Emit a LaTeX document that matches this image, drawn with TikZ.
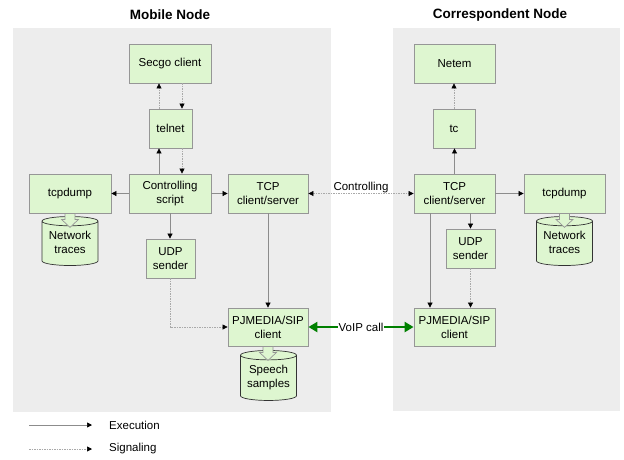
\documentclass[tikz,border=0pt]{standalone}
\usepackage{fontspec}
\setmainfont{Liberation Sans}
\usetikzlibrary{arrows.meta,calc,shapes.geometric}
\definecolor{panelgray}{RGB}{237,237,237}
\definecolor{boxgreen}{RGB}{222,246,208}
\definecolor{boxline}{RGB}{150,150,150}
\definecolor{linegray}{RGB}{140,140,140}
\definecolor{voipgreen}{RGB}{0,128,0}
\tikzset{
  panel/.style={fill=panelgray, draw=none},
  box/.style={draw=boxline, fill=boxgreen, line width=0.8pt, align=center, inner sep=0pt,
    font=\fontsize{11.5}{14}\selectfont, minimum height=39pt},
  db/.style={draw=black!80, fill=boxgreen, line width=0.7pt, shape=cylinder, shape border rotate=90,
    aspect=0.22, minimum width=56pt, minimum height=49pt, inner sep=0pt, align=center,
    font=\fontsize{11.5}{14}\selectfont},
  tip/.style={-{Triangle[length=5pt,width=5pt,black]}},
  exe/.style={draw=linegray, line width=0.7pt, tip},
  sig/.style={draw=linegray!75, line width=0.6pt, dash pattern=on 1.5pt off 1pt, tip},
  blk/.style={draw=boxline, fill=boxgreen, line width=0.7pt},
  title/.style={font=\fontsize{13.5}{16}\bfseries\selectfont},
  lbl/.style={font=\fontsize{11.5}{14}\selectfont, inner sep=1pt},
}
\newcommand\blkarrow[1]{%
  \draw[blk] ($(#1)+(-5,0)$) -- ++(0,6) -- ++(-3.5,0) -- ($(#1)+(0,14)$)
    -- ($(#1)+(8.5,6)$) -- ++(-3.5,0) -- ($(#1)+(5,0)$) -- cycle;}
\newcommand\dbtext[2]{\raisebox{-3pt}{\begin{tabular}{@{}c@{}}#1\\#2\end{tabular}}}
\begin{document}
\begin{tikzpicture}[x=1pt,y=-1pt]
\useasboundingbox (0,0) rectangle (624,459);
% panels
\fill[panel] (13,28) rectangle (331,412);
\fill[panel] (393,28) rectangle (620,411);
% titles
\node[title] (tmob) at (170,15) {Mobile Node};
\node[title] (tcor) at (500,15) {Correspondent Node};
% mobile node boxes
\node[box, minimum width=82pt] (secgo) at (170,63.5) {Secgo client};
\node[box, minimum width=43pt] (telnet) at (170.5,128.5) {telnet};
\node[box, minimum width=82pt] (script) at (170,193.5) {Controlling\\script};
\node[box, minimum width=82pt] (dumpL) at (70,193.5) {tcpdump};
\node[box, minimum width=80pt] (tcpL) at (268,193.5) {TCP\\client/server};
\node[box, minimum width=49pt] (udpL) at (170.5,258.5) {UDP\\sender};
\node[box, minimum width=80pt, minimum height=38pt] (pjL) at (268,327) {PJMEDIA/SIP\\client};
\node[db] (tracesL) at (70,243.5) {\dbtext{Network}{traces}};
\node[db, minimum height=50pt] (speech) at (268.5,378) {\dbtext{Speech}{samples}};
% correspondent node boxes
\node[box, minimum width=81pt] (netem) at (454.5,63.5) {Netem};
\node[box, minimum width=42pt] (tc) at (454,128.5) {tc};
\node[box, minimum width=81pt] (tcpR) at (454.5,193.5) {TCP\\client/server};
\node[box, minimum width=81pt] (dumpR) at (564.5,193.5) {tcpdump};
\node[box, minimum width=49pt] (udpR) at (470.5,248.5) {UDP\\sender};
\node[box, minimum width=81pt, minimum height=38pt] (pjR) at (454.5,327) {PJMEDIA/SIP\\client};
\node[db] (tracesR) at (564.5,243.5) {\dbtext{Network}{traces}};
% block arrows
\blkarrow{dumpL.south}
\blkarrow{dumpR.south}
\blkarrow{pjL.south}
% mobile connectors
\draw[exe] (159,0 |- script.north) -- (159,0 |- telnet.south);
\draw[sig] (182,0 |- telnet.south) -- (182,0 |- script.north);
\draw[sig] (159,0 |- telnet.north) -- (159,0 |- secgo.south);
\draw[sig] (182,0 |- secgo.south) -- (182,0 |- telnet.north);
\draw[exe] (script.west) -- (dumpL.east);
\draw[exe] (script.east) -- (tcpL.west);
\draw[exe] (script.south) -- (script.south |- udpL.north);
\draw[exe] (tcpL.south) -- (tcpL.south |- pjL.north);
\draw[sig] (udpL.south) |- (pjL.west);
% controlling link
\draw[sig, {Triangle[length=5pt,width=5pt,black]}-{Triangle[length=5pt,width=5pt,black]}] (tcpL.east) -- node[lbl, above, yshift=-1pt] {Controlling} (tcpR.west);
% correspondent connectors
\draw[exe] (tcpR.north) -- (tcpR.north |- tc.south);
\draw[sig] (tc.north) -- (tc.north |- netem.south);
\draw[exe] (tcpR.east) -- (dumpR.west);
\draw[exe] (470.5,0 |- tcpR.south) -- (udpR.north);
\draw[exe] (430,0 |- tcpR.south) -- (430,0 |- pjR.north);
\draw[sig] (udpR.south) -- (udpR.south |- pjR.north);
% VoIP call
\draw[draw=voipgreen, line width=2.5pt, {Triangle[length=9pt,width=10pt]}-{Triangle[length=9pt,width=10pt]}] (pjL.east) -- node[lbl, fill=white, inner sep=0.5pt] {VoIP call} (pjR.west);
% legend
\coordinate (l1a) at (29,425); \coordinate (l1b) at (92,425);
\coordinate (l2a) at (29,449); \coordinate (l2b) at (92,449);
\draw[exe] (l1a) -- (l1b);
\draw[sig] (l2a) -- (l2b);
\node[lbl, anchor=west] (lexe) at (108,425) {Execution};
\node[lbl, anchor=west] (lsig) at (108,449) {Signaling};
\end{tikzpicture}
\end{document}
